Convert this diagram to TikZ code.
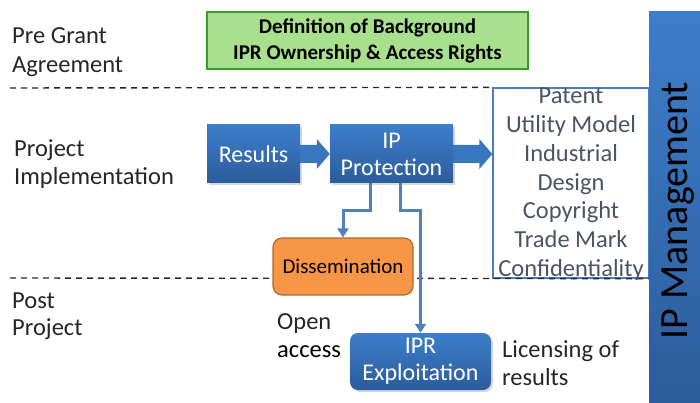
\documentclass[tikz,border=0pt]{standalone}
\usepackage{fontspec}
\setmainfont{Carlito}
\usetikzlibrary{arrows.meta,calc,shadows}

\definecolor{labelgray}{HTML}{262626}
\definecolor{listgray}{HTML}{4A5462}
\definecolor{boxtop}{HTML}{3D7ECC}
\definecolor{boxbot}{HTML}{2C5C9B}
\definecolor{arrowblue}{HTML}{3A76C0}
\definecolor{connblue}{HTML}{4F81BD}
\definecolor{listframe}{HTML}{4A7EC0}
\definecolor{greenfill}{HTML}{A9E08E}
\definecolor{greenline}{HTML}{3A9A2A}
\definecolor{orangefill}{HTML}{F79646}
\definecolor{orangeline}{HTML}{B5692C}

\tikzset{
  lbl/.style={anchor=base west, inner sep=0, text=labelgray,
    font=\fontsize{24.5}{28.7}\selectfont},
  bluebox/.style={top color=boxtop, bottom color=boxbot, draw=none,
    text=white, align=center, inner sep=0,
    font=\fontsize{24}{27}\selectfont,
    drop shadow={opacity=0.3, shadow xshift=2pt, shadow yshift=-2pt}},
  conn/.style={draw=connblue, line width=3pt,
    -{Triangle[width=11pt,length=9pt]}},
  phase/.style={draw=black!85, line width=1.4pt, dash pattern=on 6pt off 5pt},
  blockarrow/.style={fill=arrowblue, draw=none},
  listtxt/.style={anchor=base, inner sep=0, text=listgray,
    font=\fontsize{24.5}{28.7}\selectfont}
}

\begin{document}
\begin{tikzpicture}[x=1pt, y=-1pt]
\useasboundingbox (0,0) rectangle (700,403);

% phase separators
\node (types) [draw=listframe, line width=1.3pt, minimum width=156pt,
  minimum height=190pt, inner sep=0] at (571,183) {};
\coordinate (sepA) at (10,88);
\coordinate (sepB) at (10,278);
\draw[phase] (sepA) -- (types.north west);
\draw[phase] (sepB) -- (types.south east);

% phase labels
\node[lbl] (preA) at (12,44) {Pre Grant};
\node[lbl] (preB) at (12,73) {Agreement};
\node[lbl] (impA) at (14,157) {Project};
\node[lbl] (impB) at (14,185) {Implementation};
\node[lbl] (postA) at (12,308) {Post};
\node[lbl] (postB) at (12,335) {Project};

% background definition
\node (bg) [fill=greenfill, draw=greenline, line width=1.2pt,
  minimum width=321pt, minimum height=57pt, inner sep=0, align=center,
  font=\bfseries\fontsize{21}{26}\selectfont] at (367.5,40.5)
  {Definition of Background\\IPR Ownership \& Access Rights};

% IP management bar
\node (bar) [top color=boxtop, bottom color=boxbot, draw=none,
  minimum width=53pt, minimum height=393pt, inner sep=0] at (675.5,208.5) {};
\node (barlbl) [rotate=90, anchor=base, inner sep=0,
  font=\fontsize{40}{48}\selectfont] at (687,210.5) {IP Management};

% protection types
\foreach \t [count=\i] in {Patent, Utility Model, Industrial, Design,
    Copyright, Trade Mark, Confidentiality}
  \node[listtxt] (type\i) at (571,{104+28.67*(\i-1)}) {\t};

% main flow
\node[bluebox, minimum width=93pt, minimum height=58pt] (res) at (253.5,154) {Results};
\node[bluebox, minimum width=123pt, minimum height=58pt] (ipp) at (391.5,154) {IP\\Protection};
\node[bluebox, rounded corners=8pt, minimum width=141pt, minimum height=57pt]
  (expl) at (420.5,361.5) {IPR\\Exploitation};
\node (diss) [fill=orangefill, draw=orangeline, line width=1.2pt,
  rounded corners=9pt, minimum width=140pt, minimum height=57pt, inner sep=0,
  font=\fontsize{21}{25}\selectfont] at (343,266.5) {Dissemination};

% block arrows
\coordinate (tip) at (types.west |- ipp.east);
\fill[blockarrow] ($(res.east)+(0,-9)$) -- ($(ipp.west)+(-13,-9)$)
  -- ($(ipp.west)+(-13,-15)$) -- (ipp.west) -- ($(ipp.west)+(-13,15)$)
  -- ($(ipp.west)+(-13,9)$) -- ($(res.east)+(0,9)$) -- cycle;
\fill[blockarrow] ($(ipp.east)+(0,-9)$) -- ($(tip)+(-13,-9)$)
  -- ($(tip)+(-13,-15)$) -- (tip) -- ($(tip)+(-13,15)$)
  -- ($(tip)+(-13,9)$) -- ($(ipp.east)+(0,9)$) -- cycle;

% connectors
\draw[conn] ([xshift=-21pt]ipp.south) -- ++(0,27) -| (diss.north);
\draw[conn] ([xshift=9pt]ipp.south) -- ++(0,27) -| (expl.north);

% side notes
\node[lbl] (openA) at (277,329) {Open};
\node[lbl, text=black] (openB) at (277,357) {access};
\node[lbl] (licA) at (502,357) {Licensing of};
\node[lbl] (licB) at (502,385) {results};
\end{tikzpicture}
\end{document}
